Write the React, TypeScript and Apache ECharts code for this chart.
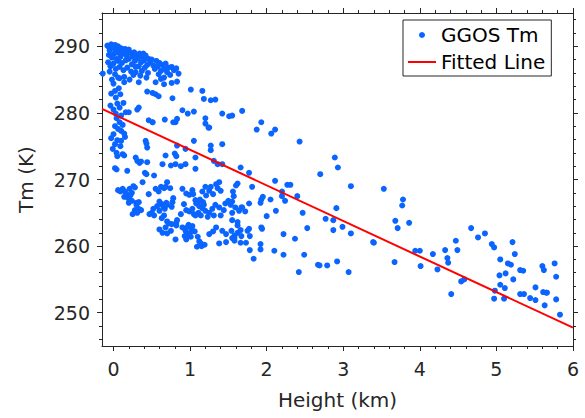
import React, { useEffect, useRef } from "react";
import * as echarts from "echarts";

// ---- Data ----
// GGOS Tm scatter points: [height (km), Tm (K)]
const topBand: number[][] = [
  [-0.08,290.1],[-0.05,289.4],[-0.03,290.3],[0.0,289.8],[0.02,290.2],[0.05,289.5],[-0.06,288.7],[-0.02,288.3],
  [0.01,288.9],[0.04,288.1],[0.07,289.0],[0.09,288.4],[-0.07,287.6],[-0.04,287.0],[0.0,287.4],[0.03,286.6],
  [0.06,287.8],[0.08,286.9],[-0.05,286.2],[0.02,285.8],[0.1,289.7],[0.12,288.9],[0.11,287.5],[0.13,286.4],
  [-0.06,289.9],[-0.01,290.0],[0.03,289.3],[0.06,290.0],[-0.03,288.6],[0.08,289.6],
  [0.15,289.6],[0.17,288.6],[0.19,289.2],[0.16,287.9],[0.2,288.1],[0.22,289.0],[0.24,287.3],[0.25,288.5],
  [0.27,289.1],[0.18,286.8],[0.28,287.8],[0.3,288.7],[0.23,286.2],[0.29,286.9],[0.14,285.4],[0.21,285.0],
  [0.26,285.7],[0.13,289.3],[0.2,289.5],[0.26,288.9],
  [0.32,288.2],[0.34,288.9],[0.36,287.6],[0.38,288.4],[0.33,287.0],[0.4,287.9],[0.42,288.6],[0.44,287.2],
  [0.46,288.1],[0.37,286.3],[0.41,286.8],[0.48,287.6],[0.5,288.0],[0.52,287.1],[0.45,286.0],[0.54,286.6],
  [0.35,285.6],[0.43,285.3],[0.29,286.1],[0.33,284.6],[0.39,288.9],
  [0.56,287.8],[0.58,287.0],[0.6,287.5],[0.62,286.3],[0.64,287.2],[0.66,286.6],[0.68,287.4],[0.7,286.1],
  [0.72,286.8],[0.74,285.7],[0.76,286.9],[0.79,286.4],[0.82,286.7],[0.85,285.9],[0.59,285.8],[0.66,285.3],
  [0.62,285.1],[0.55,284.6],[0.66,284.3],[0.76,284.5],[0.83,284.7],[0.14,284.6],[0.08,285.2],[-0.14,285.9]
];

const surfaceColumn: number[][] = [
  [0.0,284.4],[0.07,283.7],[0.03,282.3],[0.05,281.4],[-0.04,281.1],[0.03,279.9],[0.06,285.3],[-0.02,285.0],
  [0.02,283.3],[0.09,282.8],[-0.03,282.9],[0.08,280.8],[0.0,280.5],[0.04,279.2],[0.08,278.6],[0.12,278.2],
  [0.02,278.0],[0.06,277.6],[0.10,277.3],[0.0,276.8],[-0.03,276.2],[0.05,275.9],[0.02,275.3],[-0.01,274.6],
  [0.04,274.0],[0.12,273.8],[0.14,276.9],[0.09,275.0],[0.1,279.6],[0.13,281.5]
];

const upperScatter: number[][] = [
  [0.44,283.2],[0.51,283.0],[0.55,282.8],[0.59,282.5],[0.77,282.2],[1.01,283.5],[1.16,283.3],[1.18,282.1],
  [1.27,281.9],[1.33,282.0],[0.31,280.5],[0.33,280.8],[0.16,280.1],[0.2,280.1],[0.46,278.9],[0.51,278.6],
  [0.67,279.0],[0.81,278.6],[0.83,279.1],[0.9,280.4],[0.97,279.9],[1.05,280.2],[1.2,279.2],[1.25,277.8],
  [1.42,279.9],[1.51,279.5],[1.55,279.6],[1.68,280.3],[1.87,277.5],[1.93,278.6],[2.06,276.9],[2.11,277.5],
  [2.43,275.7],[0.42,275.8],[0.44,274.8],[0.29,273.3],[0.31,272.8],[0.34,272.5],[0.36,272.7],[0.68,273.6],
  [0.82,273.5],[0.80,273.9],[0.94,274.6],[1.05,275.8],[1.07,273.3],[0.02,271.7],[0.04,271.5],[0.18,271.3],
  [0.44,272.6],[0.41,271.0],[0.43,270.8],[0.53,270.6],[0.64,272.3],[0.75,272.1],[0.88,272.0],[0.7,269.6],
  [0.83,275.1],[0.81,272.3],[0.94,272.3],[1.07,271.6],[1.27,274.4],[1.27,275.1],[1.42,275.3],[1.31,272.8],
  [1.36,272.3],[1.42,272.3],[1.66,271.8],[1.2,278.4],[1.24,277.8],[0.78,278.6],[0.51,278.6],[0.43,275.4],
  [0.1,275.8],[0.15,276.4],[0.05,273.5],[0.14,273.6]
];

const lowerCluster: number[][] = [
  [0.06,268.4],[0.09,268.2],[0.12,268.6],[0.15,268.2],[0.17,267.8],[0.14,267.4],[0.19,267.2],[0.22,267.6],
  [0.24,268.0],[0.21,268.6],[0.28,268.8],[0.26,269.0],[0.38,269.6],[0.46,267.8],[0.55,268.6],[0.59,268.2],
  [0.62,268.9],[0.66,268.7],[0.68,268.9],[0.74,268.7],[0.6,266.7],[0.63,266.3],[0.65,265.9],[0.67,265.6],
  [0.7,266.2],[0.3,266.5],[0.33,265.6],[0.28,265.4],[0.31,265.0],[0.36,265.4],[0.25,264.8],[0.5,265.0],
  [0.52,265.6],[0.47,264.8],[0.77,266.6],[0.78,267.2],[0.76,265.9],[0.7,263.7],[0.72,263.4],[0.76,263.3],
  [0.82,263.5],[0.83,263.9],[0.82,263.1],[0.9,268.6],[0.95,267.9],[0.99,267.7],[1.03,268.4],[1.04,267.8],
  [1.07,266.9],[1.08,266.4],[1.1,266.7],[1.13,267.0],[0.95,265.4],[0.99,265.2],[1.05,264.8],[1.07,264.6],
  [1.11,265.0],[1.16,268.2],[1.2,268.9],[1.21,267.6],[1.25,268.3],[1.27,268.9],[1.3,267.8],[1.34,269.3],
  [1.36,268.7],[1.38,269.6],[1.4,268.3],[1.16,265.7],[1.18,266.2],[1.2,265.3],[1.14,264.6],[1.23,264.4],
  [1.25,265.0],[1.29,265.6],[1.31,264.6],[1.33,266.2],[1.38,265.8],[1.4,264.6],[1.44,265.4],[1.46,266.4],
  [1.5,266.8],[1.53,266.2],[1.55,265.0],[1.59,265.8],[1.64,265.3],[1.68,265.8],
  [0.6,262.5],[0.64,262.0],[0.68,262.8],[0.7,261.9],[0.75,262.3],[0.81,261.0],[0.9,262.8],[0.94,262.3],
  [0.96,261.7],[0.98,263.2],[1.0,262.0],[1.02,262.6],[0.93,261.5],[0.97,262.9],[1.01,261.4],[1.03,263.0],
  [1.06,262.2],[0.95,261.0],[1.1,261.4],[1.12,260.7],[1.14,260.4],[1.09,259.9],[1.15,260.0],[1.19,260.2],
  [1.25,261.8],[1.3,262.2],[1.34,262.8],[1.42,262.3],[1.47,261.8],[1.54,262.3],[1.58,261.6],[1.62,262.0],
  [1.66,262.4],[1.55,261.2],[1.47,260.6],[1.38,260.4],[1.66,260.5],[1.62,263.6],[1.55,263.9],
  [0.2,266.5],[0.24,266.8],[0.3,266.2],[0.33,266.6],[0.53,264.6],[0.57,266.0],[0.6,265.3],[0.66,264.6],
  [0.63,264.2],[0.69,266.5],[0.88,264.8],[0.92,266.3],[1.03,265.6],[1.12,266.0],[1.17,266.6]
];

const midRange: number[][] = [
  [1.62,263.1],[1.58,261.2],[1.58,260.8],[1.67,261.5],[1.77,271.0],[1.81,268.9],[1.62,269.4],[1.6,269.1],
  [1.57,267.5],[1.56,268.2],[1.55,266.7],[1.72,265.2],[1.67,265.8],[1.77,266.4],[1.93,267.0],[1.95,267.4],
  [1.92,266.5],[2.0,264.5],[2.05,267.0],[2.11,269.8],[2.2,268.2],[2.2,267.5],[2.24,266.8],[2.12,265.3],
  [2.27,269.2],[2.31,269.2],[2.4,267.5],[2.47,265.0],[2.53,262.7],[2.22,261.8],[2.37,261.1],[2.22,258.7],
  [2.1,259.3],[1.92,259.5],[1.92,260.3],[1.83,258.1],[1.78,259.4],[1.73,260.5],[1.78,261.5],[1.77,262.6],
  [1.75,262.3],[1.93,262.8],[1.94,262.6],[2.49,258.7],[2.42,256.1],[2.67,257.2],[2.69,257.1],[2.79,257.1],
  [2.92,257.7],[3.07,256.1],[2.7,270.8],[2.89,273.3],[2.93,271.8],[3.1,269.0],[2.91,265.7],[2.77,264.1],
  [2.87,263.9],[2.87,262.4],[2.99,262.9],[3.1,261.9],[3.39,260.6],[3.4,260.5],[3.53,268.6],[3.78,267.0],
  [3.77,266.1],[3.68,263.8],[3.71,262.7],[3.86,263.5],[3.67,257.6]
];

const highSites: number[][] = [
  [3.94,259.3],[4.0,259.3],[4.01,257.0],[4.17,258.8],[4.23,256.5],[4.33,259.4],[4.36,258.2],[4.37,257.5],
  [4.41,252.8],[4.47,260.8],[4.49,259.4],[4.54,254.7],[4.58,255.0],[4.67,262.7],[4.76,261.3],[4.85,261.9],
  [4.94,260.3],[4.97,259.8],[5.05,258.0],[5.04,255.6],[5.05,254.2],[4.98,253.3],[4.97,252.1],[5.12,255.9],
  [5.11,253.7],[5.1,252.1],[5.15,257.4],[5.19,257.2],[5.21,260.6],[5.24,258.8],[5.22,255.0],[5.31,256.4],
  [5.35,256.3],[5.31,252.8],[5.36,252.8],[5.44,252.2],[5.51,253.8],[5.51,251.9],[5.6,257.0],[5.62,256.4],
  [5.61,253.1],[5.65,253.0],[5.66,253.0],[5.63,251.1],[5.76,257.4],[5.78,255.4],[5.78,252.0],[5.83,249.7]
];

// Fitted line end points
const fitHeight = [-0.15, 6];
const fitTm = [280.6, 247.75];

// Axis ticks
const xMajorTicks = [0, 1, 2, 3, 4, 5, 6];
const xMinorTicks = [0.2, 0.4, 0.6, 0.8, 1.2, 1.4, 1.6, 1.8, 2.2, 2.4, 2.6, 2.8, 3.2, 3.4, 3.6, 3.8, 4.2, 4.4, 4.6, 4.8, 5.2, 5.4, 5.6, 5.8];
const yMajorTicks = [250, 260, 270, 280, 290];
const yMinorTicks = [246, 248, 252, 254, 256, 258, 262, 264, 266, 268, 272, 274, 276, 278, 282, 284, 286, 288, 292, 294];

const X_MIN = -0.15, X_MAX = 6, Y_MIN = 245, Y_MAX = 295;

export default function App() {
  const ref = useRef<HTMLDivElement>(null);
  useEffect(() => {
    if (!ref.current) return;
    const chart = echarts.init(ref.current, null, { renderer: "svg" });
    const axisColor = "#262626";
    const font = "DejaVu Sans";
    const points = [...topBand, ...surfaceColumn, ...upperScatter, ...lowerCluster, ...midRange, ...highSites];
    const fitData = fitHeight.map((h, i) => [h, fitTm[i]]);

    const mkX = (pos: string, ticks: number[], len: number, showLine: boolean, labels: boolean, extra: any = {}) => ({
      type: "value",
      position: pos,
      min: X_MIN,
      max: X_MAX,
      axisLine: { show: showLine, onZero: false, lineStyle: { color: axisColor, width: 1 } },
      axisTick: { show: true, inside: false, length: len, customValues: ticks, lineStyle: { color: axisColor, width: 1 } },
      axisLabel: labels
        ? { show: true, customValues: ticks, margin: 13, color: axisColor, fontSize: 19, fontFamily: font }
        : { show: false },
      splitLine: { show: false },
      ...extra,
    });
    const mkY = (pos: string, ticks: number[], len: number, showLine: boolean, labels: boolean, extra: any = {}) => ({
      type: "value",
      position: pos,
      min: Y_MIN,
      max: Y_MAX,
      axisLine: { show: showLine, onZero: false, lineStyle: { color: axisColor, width: 1 } },
      axisTick: { show: true, inside: false, length: len, customValues: ticks, lineStyle: { color: axisColor, width: 1 } },
      axisLabel: labels
        ? { show: true, customValues: ticks, margin: 12, color: axisColor, fontSize: 19, fontFamily: font }
        : { show: false },
      splitLine: { show: false },
      ...extra,
    });

    chart.setOption({
      animation: false,
      backgroundColor: "#ffffff",
      grid: { left: 102, right: 12, top: 13, bottom: 72, containLabel: false },
      xAxis: [
        mkX("bottom", xMajorTicks, 5, true, true, {
          name: "Height (km)",
          nameLocation: "middle",
          nameGap: 44,
          nameTextStyle: { color: axisColor, fontSize: 20, fontFamily: font },
        }),
        mkX("bottom", xMinorTicks, 3, false, false),
        mkX("top", xMajorTicks, 5, true, false),
        mkX("top", xMinorTicks, 3, false, false),
      ],
      yAxis: [
        mkY("left", yMajorTicks, 5, true, true, {
          name: "Tm (K)",
          nameLocation: "middle",
          nameGap: 66,
          nameTextStyle: { color: axisColor, fontSize: 20, fontFamily: font },
        }),
        mkY("left", yMinorTicks, 3, false, false),
        mkY("right", yMajorTicks, 5, true, false),
        mkY("right", yMinorTicks, 3, false, false),
      ],
      legend: {
        orient: "vertical",
        left: 403,
        top: 20,
        backgroundColor: "#ffffff",
        borderColor: "#262626",
        borderWidth: 1,
        borderRadius: 0,
        padding: [5, 6, 4, 4],
        itemWidth: 28,
        itemHeight: 6,
        itemGap: 7,
        selectedMode: false,
        textStyle: { color: "#000000", fontSize: 20, fontFamily: font },
        data: [
          { name: "GGOS Tm", icon: "circle" },
          { name: "Fitted Line", itemStyle: { opacity: 0 }, lineStyle: { color: "#FF0000", width: 2 } },
        ],
      },
      series: [
        {
          name: "GGOS Tm",
          type: "scatter",
          xAxisIndex: 0,
          yAxisIndex: 0,
          symbol: "circle",
          symbolSize: 6,
          itemStyle: { color: "#0A64FF", opacity: 1 },
          data: points,
          z: 2,
        },
        {
          name: "Fitted Line",
          type: "line",
          xAxisIndex: 0,
          yAxisIndex: 0,
          showSymbol: false,
          symbol: "none",
          lineStyle: { color: "#FF0000", width: 2 },
          itemStyle: { color: "#FF0000" },
          data: fitData,
          z: 3,
        },
      ],
    });
    return () => chart.dispose();
  }, []);

  return (
    <div
      ref={ref}
      style={{ position: "fixed", left: 0, top: 0, width: 585, height: 418, background: "#fff" }}
    />
  );
}
